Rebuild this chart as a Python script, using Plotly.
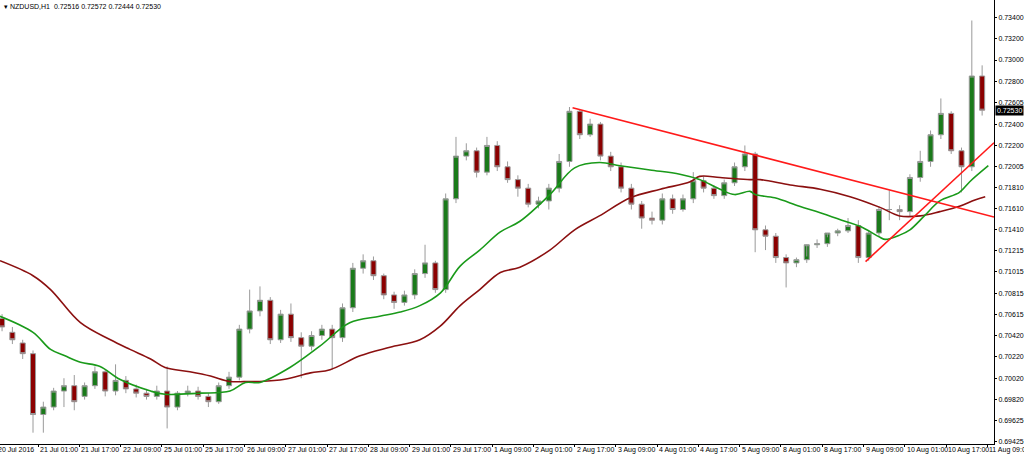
import plotly.graph_objects as go

# 4-hour bars (bar index 0 = 20 Jul 09:00)
opens  = [0.7058,0.7045,0.7035,0.7025,0.6968,0.6975,0.6990,0.6995,0.6985,0.6995,0.7008,0.6990,0.7000,0.6992,0.6988,0.6985,
          0.6990,0.6975,0.6988,0.6990,0.6985,0.6980,0.6995,0.7003,0.7048,0.7065,0.7075,0.7038,0.7062,0.7040,0.7032,0.7042,
          0.7048,0.7040,0.7068,0.7105,0.7112,0.7098,0.7080,0.7073,0.7080,0.7100,0.7110,0.7085,0.7170,0.7210,0.7215,0.7195,
          0.7220,0.7200,0.7188,0.7180,0.7165,0.7168,0.7180,0.7205,0.7252,0.7230,0.7240,0.7210,0.7200,0.7180,0.7165,0.7152,
          0.7150,0.7170,0.7160,0.7170,0.7187,0.7180,0.7173,0.7185,0.7200,0.7212,0.7141,0.7135,0.7115,0.7110,0.7113,0.7127,
          0.7128,0.7138,0.7140,0.7145,0.7115,0.7138,0.7160,0.7160,0.7158,0.7190,0.7205,0.7230,0.7250,0.7215,0.7200,0.7285]
closes = [0.7050,0.7038,0.7025,0.6968,0.6975,0.6990,0.6995,0.6980,0.6995,0.7008,0.6990,0.7000,0.6992,0.6988,0.6985,0.6990,
          0.6975,0.6988,0.6990,0.6985,0.6980,0.6995,0.7003,0.7048,0.7065,0.7075,0.7038,0.7062,0.7040,0.7032,0.7042,0.7048,
          0.7040,0.7068,0.7105,0.7112,0.7098,0.7080,0.7073,0.7080,0.7100,0.7110,0.7085,0.7170,0.7210,0.7215,0.7195,0.7220,
          0.7200,0.7188,0.7180,0.7165,0.7168,0.7180,0.7205,0.7252,0.7230,0.7240,0.7210,0.7200,0.7180,0.7165,0.7152,0.7150,
          0.7170,0.7160,0.7170,0.7187,0.7180,0.7173,0.7185,0.7200,0.7212,0.7141,0.7135,0.7115,0.7110,0.7113,0.7127,0.7128,
          0.7138,0.7140,0.7145,0.7115,0.7138,0.7160,0.7160,0.7158,0.7190,0.7205,0.7230,0.7250,0.7215,0.7200,0.7285,0.7253]
highs  = [0.7062,0.7050,0.7038,0.7028,0.6980,0.6993,0.7002,0.7005,0.6998,0.7013,0.7010,0.7015,0.7004,0.6996,0.6992,0.6995,
          0.7013,0.6990,0.6995,0.6994,0.6988,0.6998,0.7008,0.7052,0.7085,0.7088,0.7078,0.7066,0.7072,0.7045,0.7046,0.7052,
          0.7052,0.7072,0.7110,0.7118,0.7116,0.7100,0.7083,0.7084,0.7104,0.7127,0.7112,0.7175,0.7228,0.7222,0.7218,0.7228,
          0.7224,0.7205,0.7192,0.7184,0.7172,0.7184,0.7212,0.7256,0.7254,0.7245,0.7242,0.7214,0.7204,0.7184,0.7168,0.7158,
          0.7175,0.7174,0.7174,0.7195,0.7191,0.7183,0.7188,0.7204,0.7220,0.7214,0.7145,0.7138,0.7118,0.7115,0.7116,0.7132,
          0.7134,0.7142,0.7152,0.7150,0.7140,0.7163,0.7178,0.7164,0.7193,0.7215,0.7234,0.7264,0.7252,0.7218,0.7337,0.7295]
lows   = [0.7046,0.7034,0.7020,0.6951,0.6951,0.6972,0.6975,0.6972,0.6982,0.6992,0.6985,0.6986,0.6988,0.6984,0.6982,0.6982,
          0.6955,0.6972,0.6985,0.6982,0.6975,0.6978,0.6992,0.7000,0.7044,0.7060,0.7034,0.7035,0.7036,0.7002,0.7028,0.7038,
          0.7010,0.7036,0.7064,0.7100,0.7094,0.7076,0.7067,0.7070,0.7076,0.7096,0.7082,0.7082,0.7166,0.7206,0.7190,0.7192,
          0.7196,0.7185,0.7172,0.7162,0.7161,0.7160,0.7176,0.7200,0.7226,0.7228,0.7206,0.7196,0.7176,0.7160,0.7142,0.7146,
          0.7146,0.7156,0.7158,0.7166,0.7176,0.7170,0.7170,0.7182,0.7196,0.7120,0.7122,0.7110,0.7087,0.7106,0.7110,0.7124,
          0.7125,0.7135,0.7138,0.7110,0.7112,0.7134,0.7150,0.7150,0.7154,0.7186,0.7200,0.7226,0.7212,0.7176,0.7196,0.7248]

ma_fast_x = [-0.2,3.0,4.7,6.1,7.6,9.5,11.4,14.4,15.8,19.2,22.1,23.6,25.0,27.9,30.8,33.7,36.6,38.6,40.5,42.5,44.4,46.3,48.3,
             50.2,53.1,55.5,57.9,59.9,62.8,65.7,67.6,69.6,71.0,72.5,73.0,74.9,77.3,79.3,81.7,83.2,85.1,85.6,87.0,88.0,89.4,
             90.9,92.8,93.8,95.6]
ma_fast_y = [0.7060,0.7045,0.7029,0.7023,0.7017,0.7013,0.7001,0.6990,0.6987,0.6988,0.6990,0.6998,0.6998,0.7012,0.7032,
             0.7054,0.7060,0.7064,0.7070,0.7082,0.7107,0.7122,0.7139,0.7149,0.7174,0.7199,0.7204,0.7201,0.7197,0.7193,
             0.7188,0.7179,0.7174,0.7177,0.7174,0.7171,0.7163,0.7157,0.7149,0.7144,0.7134,0.7132,0.7136,0.7141,0.7154,
             0.7168,0.7176,0.7186,0.7201]
ma_slow_x = [-0.2,3.0,4.7,7.6,10.5,12.4,14.4,15.8,18.2,20.2,22.1,24.0,25.0,27.4,29.9,31.8,34.7,37.6,40.5,42.5,44.4,46.3,
             48.3,50.2,53.1,55.5,57.9,60.9,63.8,66.7,67.6,69.6,72.5,73.5,76.4,79.3,82.2,85.1,87.0,89.0,90.9,92.8,94.3,95.3]
ma_slow_y = [0.7112,0.7098,0.7085,0.7054,0.7038,0.7029,0.7020,0.7012,0.7008,0.7004,0.6999,0.6999,0.6999,0.7001,0.7007,
             0.7010,0.7023,0.7031,0.7038,0.7051,0.7070,0.7085,0.7101,0.7106,0.7122,0.7141,0.7154,0.7171,0.7179,0.7186,
             0.7191,0.7190,0.7188,0.7188,0.7183,0.7179,0.7172,0.7162,0.7154,0.7154,0.7158,0.7163,0.7169,0.7172]

trend_down = [(55.3, 0.72553), (96.15, 0.7153)]
trend_up = [(83.7, 0.71112), (96.15, 0.72225)]

x_labels = ["21 Jul 01:00","21 Jul 17:00","22 Jul 09:00","25 Jul 01:00","25 Jul 17:00","26 Jul 09:00",
            "27 Jul 01:00","27 Jul 17:00","28 Jul 09:00","29 Jul 01:00","29 Jul 17:00","1 Aug 09:00",
            "2 Aug 01:00","2 Aug 17:00","3 Aug 09:00","4 Aug 01:00","4 Aug 17:00","5 Aug 09:00",
            "8 Aug 01:00","8 Aug 17:00","9 Aug 09:00","10 Aug 01:00","10 Aug 17:00","11 Aug 09:00"]
y_ticks = [0.73400,0.73200,0.73000,0.72800,0.72605,0.72400,0.72200,0.72005,0.71810,0.71610,0.71410,0.71215,
           0.71015,0.70815,0.70615,0.70420,0.70220,0.70020,0.69820,0.69625,0.69425]
last_price = 0.72530

FONT = "Liberation Sans"
idx = list(range(len(opens)))
fig = go.Figure()
fig.add_trace(go.Candlestick(x=idx, open=opens, high=highs, low=lows, close=closes,
    increasing=dict(fillcolor="#1a7a1a", line=dict(color="#9a9a9a", width=1)),
    decreasing=dict(fillcolor="#8b0000", line=dict(color="#9a9a9a", width=1)),
    whiskerwidth=0, showlegend=False, hoverinfo="skip"))
fig.add_trace(go.Scatter(x=ma_slow_x, y=ma_slow_y, mode="lines", line=dict(color="#8b1010", width=1.6, shape="spline"), showlegend=False))
fig.add_trace(go.Scatter(x=ma_fast_x, y=ma_fast_y, mode="lines", line=dict(color="#1a9a1a", width=1.6, shape="spline"), showlegend=False))
for tl in (trend_down, trend_up):
    fig.add_trace(go.Scatter(x=[p[0] for p in tl], y=[p[1] for p in tl], mode="lines",
                             line=dict(color="#ff1a1a", width=1.6), showlegend=False))

tickpos = [4 * (k + 1) - 0.5 for k in range(len(x_labels))]
ann = [dict(x=p, y=0, xref="x", yref="paper", text=t, xanchor="left", yanchor="top", yshift=0, xshift=0,
            showarrow=False, font=dict(size=7, color="#000", family=FONT)) for p, t in zip(tickpos, x_labels)]
ann.append(dict(x=0, y=0, xref="paper", yref="paper", text="20 Jul 2016", xanchor="left", yanchor="top",
                yshift=0, xshift=-4, showarrow=False, font=dict(size=7, color="#000", family=FONT)))
ann.append(dict(x=0, y=1, xref="paper", yref="paper", text="▾ NZDUSD,H1  0.72516 0.72572 0.72444 0.72530",
                xanchor="left", yanchor="top", xshift=2, yshift=-1, showarrow=False, font=dict(size=7, color="#000", family=FONT)))
ann.append(dict(x=1, y=last_price, xref="paper", yref="y", text="0.72530", xanchor="left", yanchor="middle",
                xshift=1, showarrow=False, bgcolor="#000", font=dict(size=7, color="#fff", family=FONT), borderpad=1))

fig.update_layout(width=1024, height=456, margin=dict(l=0, r=30, t=0, b=12),
    paper_bgcolor="white", plot_bgcolor="white", font=dict(family=FONT, size=7, color="#000"),
    annotations=ann,
    xaxis=dict(range=[-0.2, 96.15], showgrid=False, zeroline=False, rangeslider=dict(visible=False),
               tickvals=tickpos, ticktext=[""] * len(tickpos), ticks="outside", ticklen=2, tickcolor="#000",
               showline=True, linecolor="#000", linewidth=1),
    yaxis=dict(range=[0.69404, 0.73562], side="right", showgrid=False, zeroline=False,
               tickvals=y_ticks, ticktext=[f"{v:.5f}" for v in y_ticks], ticks="outside", ticklen=2,
               tickcolor="#000", showline=True, linecolor="#000", linewidth=1,
               tickfont=dict(size=7, family=FONT)))
fig.write_html("out.html", config={"displayModeBar": False},
               post_script="document.body.style.margin='0';document.body.style.overflow='hidden';")
